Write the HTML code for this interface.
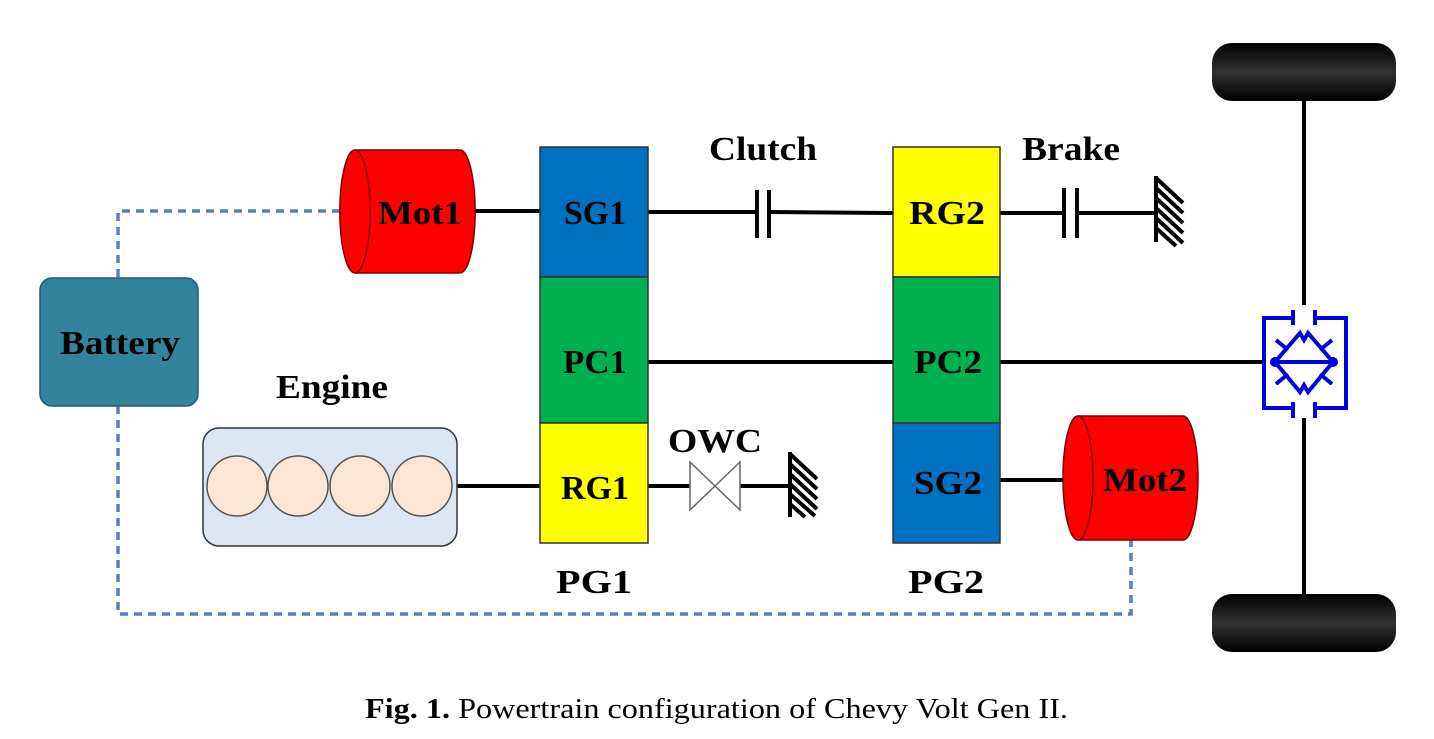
<!DOCTYPE html>
<html><head><style>
html,body{margin:0;padding:0;background:#fff;}
svg{display:block;}
text{font-family:"Liberation Serif",serif;font-weight:bold;}
</style></head><body>
<svg width="1434" height="739" viewBox="0 0 1434 739" xmlns="http://www.w3.org/2000/svg">
<defs>
<linearGradient id="tire" x1="0" y1="0" x2="0" y2="1">
<stop offset="0" stop-color="#000"/><stop offset="0.5" stop-color="#333"/><stop offset="1" stop-color="#000"/>
</linearGradient>
</defs>
<path d="M340 211 H118 V278 M118 406 V614 H1131 V540" fill="none" stroke="#5B7FB8" stroke-width="3.5" stroke-dasharray="8,6"/>
<g stroke="#000" stroke-width="4" fill="none">
<line x1="475" y1="211" x2="540" y2="211"/>
<line x1="648" y1="212" x2="757" y2="212"/>
<line x1="769" y1="212" x2="893" y2="213"/>
<line x1="1000" y1="213" x2="1064" y2="213"/>
<line x1="1077" y1="213" x2="1156" y2="213"/>
<line x1="648" y1="362" x2="893" y2="362"/>
<line x1="1000" y1="362" x2="1266" y2="362"/>
<line x1="457" y1="486" x2="540" y2="486"/>
<line x1="648" y1="486" x2="690" y2="486"/>
<line x1="740" y1="486" x2="790" y2="486"/>
<line x1="1000" y1="480" x2="1063" y2="480"/>
<line x1="1304" y1="100" x2="1304" y2="305"/>
<line x1="1304" y1="418" x2="1304" y2="596"/>
<line x1="757" y1="190" x2="757" y2="238"/><line x1="769" y1="190" x2="769" y2="238"/>
<line x1="1064" y1="188" x2="1064" y2="238"/><line x1="1077" y1="188" x2="1077" y2="238"/>
<line x1="1156" y1="176" x2="1156" y2="242"/>
<path d="M1156 178 l27 25 M1156 188 l27 25 M1156 198 l27 25 M1156 208 l27 25 M1156 218 l27 25 M1156 228 l20 18"/>
<line x1="790" y1="452" x2="790" y2="517"/>
<path d="M790 454 l27 25 M790 464 l27 25 M790 474 l27 25 M790 484 l27 25 M790 494 l25 22 M790 504 l15 13"/>
</g>
<rect x="540" y="147" width="108" height="130" fill="#0070C0" stroke="#333" stroke-width="1.5"/>
<rect x="540" y="277" width="108" height="146" fill="#00B050" stroke="#333" stroke-width="1.5"/>
<rect x="540" y="423" width="108" height="120" fill="#FFFF00" stroke="#333" stroke-width="1.5"/>
<rect x="893" y="147" width="107" height="130" fill="#FFFF00" stroke="#333" stroke-width="1.5"/>
<rect x="893" y="277" width="107" height="146" fill="#00B050" stroke="#333" stroke-width="1.5"/>
<rect x="893" y="423" width="107" height="120" fill="#0070C0" stroke="#333" stroke-width="1.5"/>
<path d="M690 462 L740 510 L740 462 L690 510 Z" fill="#fff" stroke="#666" stroke-width="1.5"/>
<rect x="1212" y="43" width="184" height="58" rx="20" fill="url(#tire)"/>
<rect x="1212" y="594" width="184" height="58" rx="20" fill="url(#tire)"/>
<g stroke="#0000E0" stroke-width="4" fill="none">
<path d="M1293 318 H1264 V408 H1293 M1315 318 H1346 V408 H1315"/>
<path d="M1293 310 V325 M1315 310 V325 M1293 402 V418 M1315 402 V418"/>
<path d="M1275 362 L1300 333 L1304 340 L1308 333 L1333 362 L1308 392 L1304 385 L1300 392 Z"/>
<line x1="1272" y1="362" x2="1336" y2="362"/>
<path d="M1276 340 l12 10 M1332 340 l-12 10 M1276 384 l12 -10 M1332 384 l-12 -10"/>
</g>
<circle cx="1275" cy="362" r="5" fill="#0000E0"/><circle cx="1333" cy="362" r="5" fill="#0000E0"/>
<rect x="40" y="278" width="158" height="128" rx="12" fill="#31849B" stroke="#1f5a6a" stroke-width="1.5"/>
<rect x="203" y="428" width="254" height="118" rx="16" fill="#DCE6F2" stroke="#333" stroke-width="1.5"/>
<g fill="#FBE5D6" stroke="#555" stroke-width="1.5">
<circle cx="237" cy="486" r="30"/><circle cx="298" cy="486" r="30"/><circle cx="360" cy="486" r="30"/><circle cx="422" cy="486" r="30"/>
</g>
<g stroke="#7a0000" stroke-width="1.5">
<path d="M355 150 H460 A15 61 0 0 1 460 273 H355 A15 61 0 0 1 355 150 Z" fill="#FF0000"/>
<path d="M355 150 A15 61 0 0 1 355 273" fill="none"/>
<path d="M1078 416 H1183 A15 62 0 0 1 1183 540 H1078 A15 62 0 0 1 1078 416 Z" fill="#FF0000"/>
<path d="M1078 416 A15 62 0 0 1 1078 540" fill="none"/>
</g>
<text x="60" y="354" font-size="34" textLength="120" lengthAdjust="spacingAndGlyphs">Battery</text>
<text x="378" y="224" font-size="34" textLength="84" lengthAdjust="spacingAndGlyphs">Mot1</text>
<text x="1103" y="491" font-size="34" textLength="84" lengthAdjust="spacingAndGlyphs">Mot2</text>
<text x="564" y="224" font-size="34" textLength="62" lengthAdjust="spacingAndGlyphs">SG1</text>
<text x="563" y="373" font-size="34" textLength="64" lengthAdjust="spacingAndGlyphs">PC1</text>
<text x="561" y="499" font-size="34" textLength="68" lengthAdjust="spacingAndGlyphs">RG1</text>
<text x="909" y="224" font-size="34" textLength="76" lengthAdjust="spacingAndGlyphs">RG2</text>
<text x="914" y="373" font-size="34" textLength="68" lengthAdjust="spacingAndGlyphs">PC2</text>
<text x="914" y="494" font-size="34" textLength="68" lengthAdjust="spacingAndGlyphs">SG2</text>
<text x="556" y="593" font-size="34" textLength="76" lengthAdjust="spacingAndGlyphs">PG1</text>
<text x="908" y="593" font-size="34" textLength="76" lengthAdjust="spacingAndGlyphs">PG2</text>
<text x="709" y="160" font-size="34" textLength="108" lengthAdjust="spacingAndGlyphs">Clutch</text>
<text x="1022" y="160" font-size="34" textLength="98" lengthAdjust="spacingAndGlyphs">Brake</text>
<text x="276" y="398" font-size="34" textLength="112" lengthAdjust="spacingAndGlyphs">Engine</text>
<text x="668" y="452" font-size="34" textLength="94" lengthAdjust="spacingAndGlyphs">OWC</text>
<text x="365" y="718" font-size="29" textLength="703" lengthAdjust="spacingAndGlyphs" style="font-weight:normal"><tspan font-weight="bold">Fig. 1.</tspan> Powertrain configuration of Chevy Volt Gen II.</text>
</svg>
</body></html>
